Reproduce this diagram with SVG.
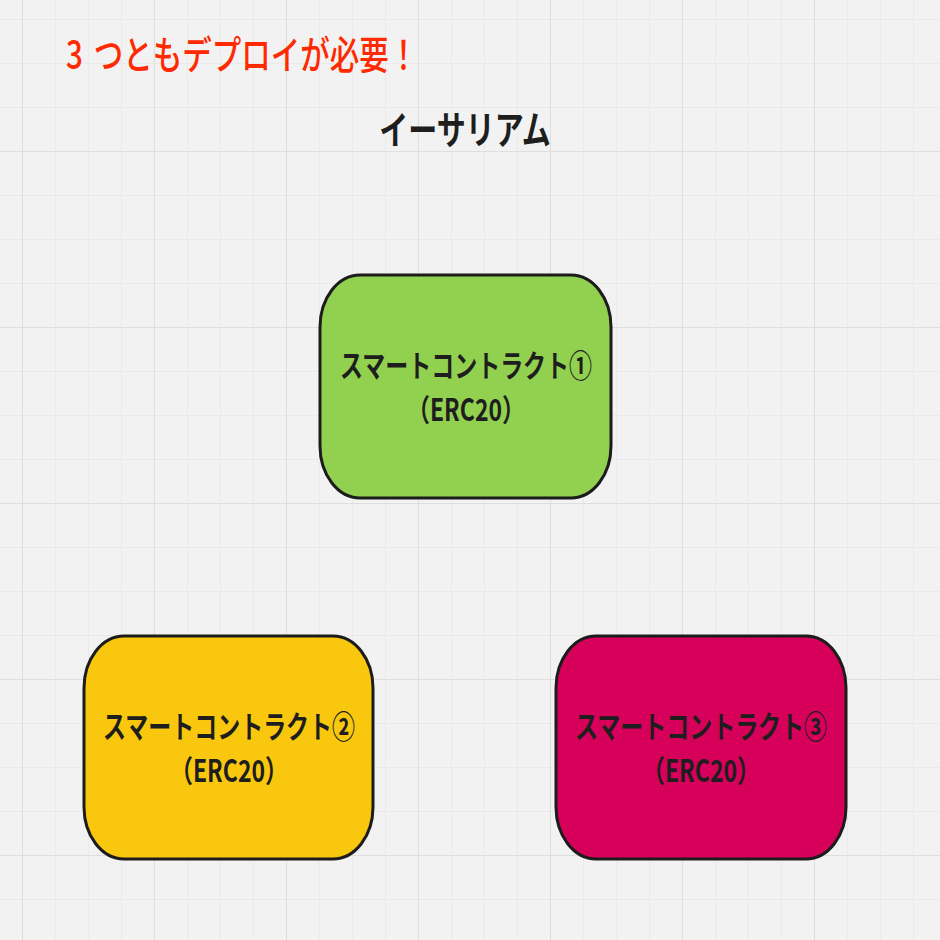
<svg xmlns="http://www.w3.org/2000/svg" width="940" height="940" viewBox="0 0 940 940">
<defs>
<pattern id="minor" x="22" y="19" width="33" height="44" patternUnits="userSpaceOnUse">
<path d="M0 0V44M0 0H33" fill="none" stroke="#e8e8e8" stroke-width="1.5"/>
</pattern>
<pattern id="major" x="22" y="151" width="132" height="176" patternUnits="userSpaceOnUse">
<path d="M0 0V176M0 0H132" fill="none" stroke="#dedede" stroke-width="2"/>
</pattern>
</defs>
<style>
.node rect{stroke:#1c1c1c;stroke-width:3}
.lbl{font-family:"Noto Sans CJK JP","Noto Sans",sans-serif;font-weight:700;font-size:23px;fill:#1e1e1e;text-anchor:middle}
.title{font-family:"Noto Sans CJK JP","Noto Sans",sans-serif;font-weight:700;font-size:29px;fill:#1e1e1e;text-anchor:middle}
.note{font-family:"Noto Sans CJK JP","Noto Sans",sans-serif;font-weight:500;font-size:29.5px;fill:#ff2a00}
</style>
<rect width="940" height="940" fill="#f2f2f2"/>
<rect width="940" height="940" fill="url(#minor)"/>
<rect width="940" height="940" fill="url(#major)"/>
<g id="note"><text class="note" transform="translate(66,69) scale(1,1.33)">3<tspan dx="11">つともデプロイが必要！</tspan></text></g>
<g id="title"><text class="title" transform="translate(465,144) scale(1,1.33)">イーサリアム</text></g>
<g id="connectors"></g>
<g id="node1" class="node">
<rect x="320" y="275" width="291" height="223" rx="40" ry="52" fill="#92d14f"/>
<text class="lbl" transform="translate(466,377) scale(1,1.33)">スマートコントラクト①</text>
<text class="lbl" transform="translate(466,421) scale(1,1.33)">（ERC20）</text>
</g>
<g id="node2" class="node">
<rect x="84" y="636" width="289" height="223" rx="40" ry="52" fill="#f9c80e"/>
<text class="lbl" transform="translate(229,738) scale(1,1.33)">スマートコントラクト②</text>
<text class="lbl" transform="translate(229,782) scale(1,1.33)">（ERC20）</text>
</g>
<g id="node3" class="node">
<rect x="556" y="636" width="290" height="223" rx="40" ry="52" fill="#d6005a"/>
<text class="lbl" transform="translate(701,738) scale(1,1.33)">スマートコントラクト③</text>
<text class="lbl" transform="translate(701,782) scale(1,1.33)">（ERC20）</text>
</g>
</svg>
